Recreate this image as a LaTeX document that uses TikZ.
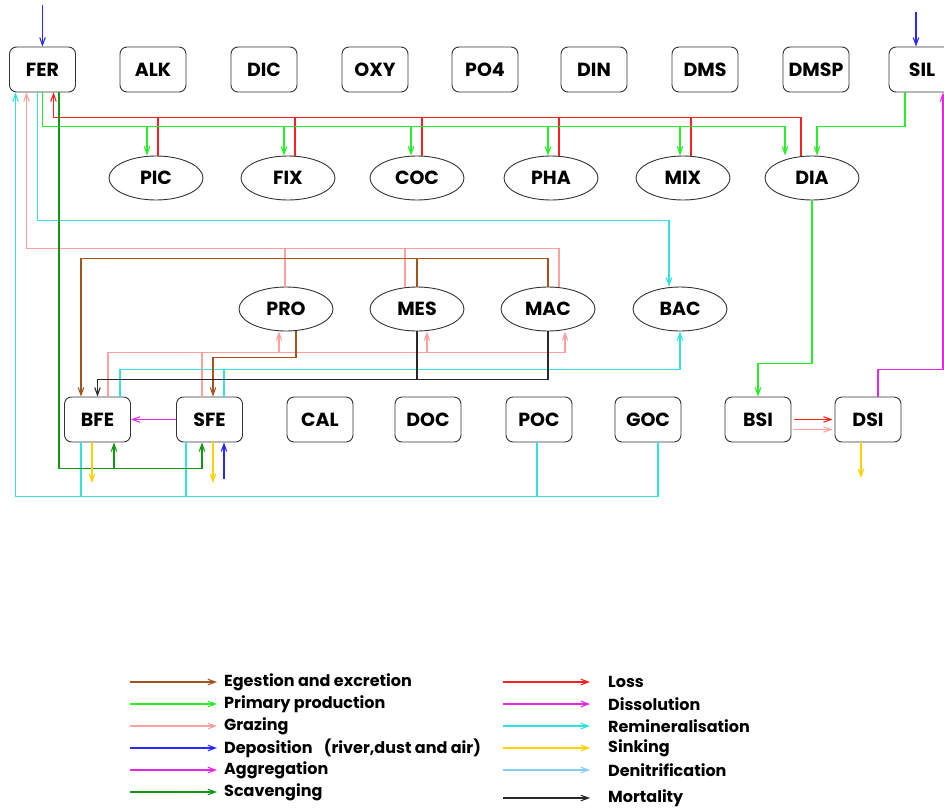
\documentclass[tikz,border=0pt]{standalone}
\usepackage{fontspec}
\setmainfont{Poppins}
\usepackage{tikz}
\usetikzlibrary{arrows.meta,shapes.geometric,calc}
\definecolor{egestcol}{RGB}{165,82,30}
\definecolor{prodcol}{RGB}{40,240,40}
\definecolor{grazecol}{RGB}{255,160,160}
\definecolor{depocol}{RGB}{40,40,255}
\definecolor{aggrcol}{RGB}{230,40,230}
\definecolor{scavcol}{RGB}{20,150,20}
\definecolor{losscol}{RGB}{255,30,30}
\definecolor{remincol}{RGB}{50,225,225}
\definecolor{sinkcol}{RGB}{255,210,0}
\definecolor{denitcol}{RGB}{135,206,250}
\definecolor{mortcol}{RGB}{40,40,40}
\begin{document}
\begin{tikzpicture}[x=1pt,y=-1pt,
		tracer/.style={draw=black!80,line width=0.9pt,rounded corners=7pt,minimum width=66pt,minimum height=45pt,inner sep=0pt,font=\fontsize{19}{22}\selectfont\bfseries},
		plankton/.style={draw=black!80,line width=0.9pt,ellipse,minimum width=94pt,minimum height=44pt,inner sep=0pt,font=\fontsize{19}{22}\selectfont\bfseries},
		flux/.style={line width=1.1pt,-{Straight Barb[length=7.5pt,width=5.5pt]}},
		egest/.style={flux,egestcol},
		prod/.style={flux,prodcol},
		graze/.style={flux,grazecol},
		depo/.style={flux,depocol},
		aggr/.style={flux,aggrcol},
		scav/.style={flux,scavcol},
		loss/.style={flux,losscol},
		remin/.style={flux,remincol},
		sink/.style={flux,sinkcol},
		denit/.style={flux,denitcol},
		mort/.style={flux,mortcol},
		legtext/.style={anchor=west,inner sep=0pt,font=\fontsize{16}{19}\selectfont\bfseries}]
			\useasboundingbox (0,0) rectangle (944,809);
			\begin{scope}
			\clip (0,0) rectangle (944,809);
			\foreach \n/\x in {FER/42.5,ALK/153,DIC/264,OXY/375,PO4/485,DIN/594,DMS/705,DMSP/816,SIL/922}
				\node[tracer] (\n) at (\x,69.5) {\n};
			\end{scope}
			\foreach \n/\x in {PIC/156,FIX/288,COC/417,PHA/551,MIX/683,DIA/812}
				\node[plankton] (\n) at (\x,178) {\n};
			\foreach \n/\x in {PRO/286,MES/417,MAC/548,BAC/680}
				\node[plankton] (\n) at (\x,309) {\n};
			\foreach \n/\x in {BFE/97.5,SFE/209.5,CAL/320,DOC/428,POC/539,GOC/648,BSI/758,DSI/868}
				\node[tracer] (\n) at (\x,419.5) {\n};
			\coordinate (ferin) at (42.5,5);
			\coordinate (silin) at (916,12);
			\coordinate (sfein) at (224,479);
			\coordinate (bfeout) at (92,483);
			\coordinate (sfeout) at (213,483);
			\coordinate (dsiout) at (861,478);
			\draw[depo] (ferin) -- (FER.north);
			\draw[depo] (silin) -- (silin |- SIL.north);
			\draw[loss] ($(DIA.north)+(-11,0)$) |- ($(FER.south)+(11,25)$) -- ($(FER.south)+(11,0)$);
			\foreach \n/\d in {PIC/2,FIX/7,COC/5,PHA/8,MIX/8}
				\draw[loss,-] ($(\n.north)+(\d,0)$) -- ++(0,-39);
			\draw[prod] (FER.south) |- ($(DIA.north)+(-27,-29)$) -- ($(DIA.north)+(-27,0)$);
			\foreach \n/\d in {PIC/-9,FIX/-4,COC/-6,PHA/-3,MIX/-3}
				\draw[prod] ($(\n.north)+(\d,-29)$) -- ($(\n.north)+(\d,0)$);
			\draw[prod] ($(SIL.south)+(-17,0)$) |- ($(DIA.north)+(5,-29)$) -- ($(DIA.north)+(5,0)$);
			\draw[prod] (DIA.south) |- ($(BSI.north)+(0,-33)$) -- (BSI.north);
			\draw[remin] ($(FER.south)+(-5,0)$) |- ($(BAC.north)+(-11,-66)$) -- ($(BAC.north)+(-11,0)$);
			\draw[remin] ($(GOC.south)+(10,0)$) |- ($(FER.south)+(-27,404)$) -- ($(FER.south)+(-27,0)$);
			\foreach \n/\d in {BFE/-16.5,SFE/-23.5,POC/-2}
				\draw[remin,-] ($(\n.south)+(\d,0)$) -- ++(0,54);
			\draw[remin] ($(BFE.north)+(22.5,0)$) |- ($(BAC.south)+(0,38)$) -- (BAC.south);
			\draw[remin,-] ($(SFE.north)+(14.5,0)$) -- ++(0,-28);
			\draw[graze] ($(MAC.north)+(11,0)$) |- ($(FER.south)+(-16,156)$) -- ($(FER.south)+(-16,0)$);
			\foreach \n/\d in {PRO/-1,MES/-12}
				\draw[graze,-] ($(\n.north)+(\d,0)$) -- ++(0,-39);
			\draw[graze] ($(BFE.north)+(10.5,0)$) |- ($(MAC.south)+(17,21)$) -- ($(MAC.south)+(17,0)$);
			\foreach \n/\d in {PRO/-7,MES/10}
				\draw[graze] ($(\n.south)+(\d,21)$) -- ($(\n.south)+(\d,0)$);
			\draw[graze,-] ($(SFE.north)+(-7.5,0)$) -- ++(0,-45);
			\draw[egest] (MAC.north) |- ($(BFE.north)+(-16.5,-138)$) -- ($(BFE.north)+(-16.5,0)$);
			\draw[egest,-] (MES.north) -- ++(0,-28);
			\draw[egest] ($(PRO.south)+(10,0)$) |- ($(SFE.north)+(3.5,-39)$) -- ($(SFE.north)+(3.5,0)$);
			\draw[mort] (MAC.south) |- ($(BFE.north)+(0,-17)$) -- (BFE.north);
			\draw[mort,-] (MES.south) -- ++(0,49);
			\draw[scav] ($(FER.south)+(16.5,0)$) |- ($(SFE.south)+(-7.5,26)$) -- ($(SFE.south)+(-7.5,0)$);
			\draw[scav] ($(BFE.south)+(16.5,26)$) -- ($(BFE.south)+(16.5,0)$);
			\draw[aggr] (SFE.west) -- (BFE.east);
			\draw[aggr] ($(DSI.north)+(10,0)$) |- ($(SIL.south)+(21,277)$) -- ($(SIL.south)+(21,0)$);
			\draw[loss] ($(BSI.east)+(3,0)$) -- ($(DSI.west)+(-2,0)$);
			\draw[graze] ($(BSI.east)+(3,10)$) -- ($(DSI.west)+(-2,10)$);
			\draw[sink] ($(BFE.south)+(-5.5,0)$) -- (bfeout);
			\draw[sink] ($(SFE.south)+(3.5,0)$) -- (sfeout);
			\draw[sink] ($(DSI.south)+(-7,0)$) -- (dsiout);
			\draw[depo] (sfein) -- ($(SFE.south)+(14.5,0)$);
			\foreach \k/\y/\s/\t in {1/682/egest/Egestion and excretion,2/704/prod/Primary production,3/726/graze/Grazing,4/748/depo/{Deposition\hspace{8pt} (river,dust and air)},5/770/aggr/Aggregation,6/792/scav/Scavenging}
			{
				\node[legtext] (legl\k) at (224,\y) {\t};
				\draw[\s] ($(legl\k.west)+(-94,0)$) -- ($(legl\k.west)+(-7,0)$);
			}
			\foreach \k/\y/\s/\t in {1/682/loss/Loss,2/704/aggr/Dissolution,3/726/remin/Remineralisation,4/748/sink/Sinking,5/770/denit/Denitrification,6/798/mort/Mortality}
			{
				\node[legtext] (legr\k) at (608,\y) {\t};
				\draw[\s] ($(legr\k.west)+(-105,0)$) -- ($(legr\k.west)+(-18,0)$);
			}
		\end{tikzpicture}
\end{document}
